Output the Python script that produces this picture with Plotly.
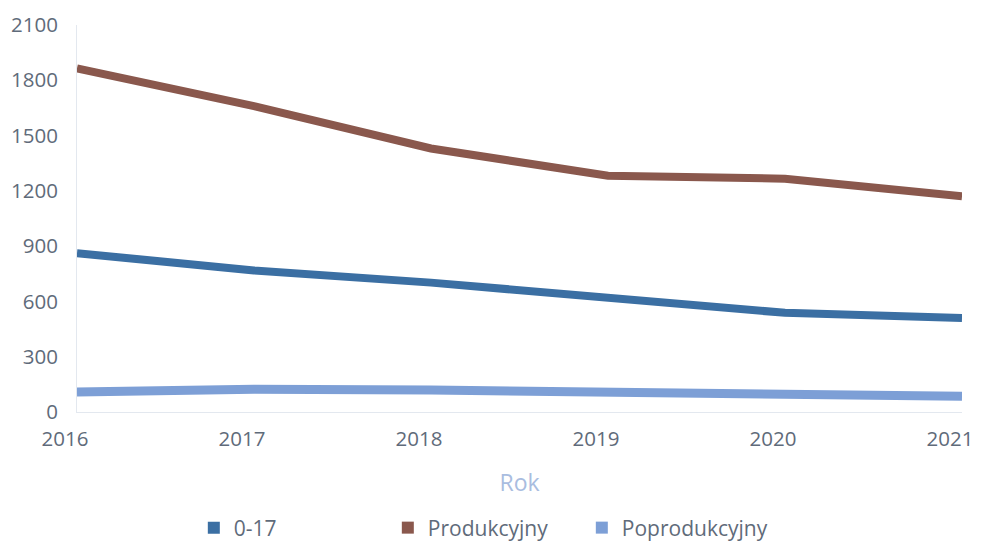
import plotly.graph_objects as go

years = [2016, 2017, 2018, 2019, 2020, 2021]
year_labels = ["2016", "2017", "2018", "2019", "2020", "2021"]
s_017 = [862, 768, 702, 619, 538, 510]
s_prod = [1865, 1660, 1430, 1282, 1266, 1170]
s_poprod = [108, 124, 119, 108, 93, 85]

names = ["0-17", "Produkcyjny", "Poprodukcyjny"]
colors = ["#3b6fa3", "#8a584d", "#7d9fd6"]
widths = [8, 8, 9]
series = [s_017, s_prod, s_poprod]

yticks = [0, 300, 600, 900, 1200, 1500, 1800, 2100]

fig = go.Figure()
# draw order: poprod, 0-17, prod
for i in [2, 0, 1]:
    fig.add_trace(go.Scatter(x=years, y=series[i], mode="lines", name=names[i],
                             line=dict(color=colors[i], width=widths[i]),
                             showlegend=False))
for i in range(3):
    fig.add_trace(go.Scatter(x=[None], y=[None], mode="markers", name=names[i],
                             marker=dict(symbol="square", size=13, color=colors[i]),
                             showlegend=True))

font = "Open Sans, Lato, sans-serif"
fig.update_layout(
    width=975, height=536,
    margin=dict(l=69, r=21, t=17, b=132, autoexpand=False),
    paper_bgcolor="white", plot_bgcolor="white",
    font=dict(family=font, size=21, color="#5f6b7a"),
    showlegend=True,
    legend=dict(orientation="h", x=0.132, xanchor="left", y=-0.2997, yanchor="middle",
                font=dict(size=21, color="#5f6b7a"), entrywidth=149, entrywidthmode="pixels",
                itemsizing="constant", traceorder="normal"),
    xaxis=dict(range=[2016, 2021], tickvals=years, ticktext=year_labels,
               automargin=False, ticklabelshift=-12,
               showgrid=False, zeroline=False, showline=True, linecolor="#e3e8ef", linewidth=1,
               ticks="", ticklabelstandoff=8, tickfont=dict(size=20.5, color="#5f6b7a"),
               title=dict(text="Rok", font=dict(size=23, color="#a9bde0"), standoff=24)),
    yaxis=dict(range=[0, 2100], tickvals=yticks, showgrid=False, zeroline=False,
               automargin=False,
               showline=True, linecolor="#e3e8ef", linewidth=1, ticks="",
               ticklabelstandoff=14, tickfont=dict(size=20.5, color="#5f6b7a")),
)

fig.write_html("out.html")
